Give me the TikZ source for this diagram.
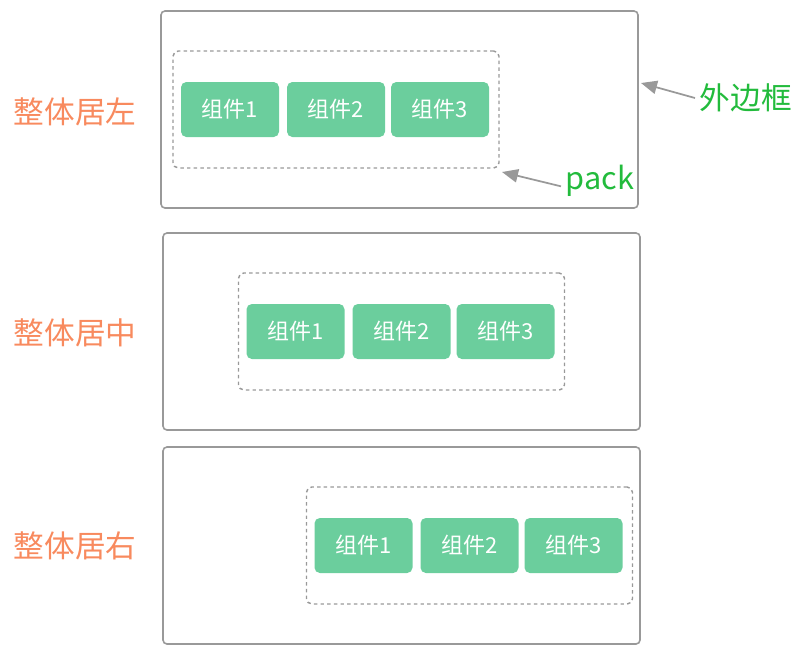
\documentclass[tikz,border=0pt]{standalone}
\usepackage{fontspec}
\setmainfont{Noto Sans CJK SC}
\usetikzlibrary{arrows.meta}
\definecolor{boxgray}{HTML}{999999}
\definecolor{compgreen}{HTML}{6BCE9D}
\definecolor{labelorange}{HTML}{F88A5E}
\definecolor{labelgreen}{HTML}{22BB3C}
\tikzset{
	outerbox/.style={draw=boxgray, line width=1.2pt, rounded corners=3pt, minimum width=357.75pt, minimum height=147.75pt},
	packbox/.style={draw=boxgray, line width=1.1pt, dash pattern=on 2.6pt off 2.4pt, rounded corners=4pt, minimum width=244.5pt, minimum height=87.75pt},
	compbox/.style={fill=compgreen, rounded corners=4pt, minimum width=73.5pt, minimum height=41.25pt, text=white, font=\fontsize{16.5}{19}\selectfont},
	sidelabel/.style={text=labelorange, font=\fontsize{23}{26}\selectfont},
	notelabel/.style={text=labelgreen, font=\fontsize{23}{26}\selectfont},
	notearrow/.style={draw=boxgray, line width=1.3pt, -{Triangle[length=12pt, width=10pt]}}
}
\begin{document}
\begin{tikzpicture}[x=0.75pt, y=-0.75pt]
		%%%%% START %%%%%
		\useasboundingbox (0, 0) rectangle (804, 658);
		
		% outer boxes
		\node[outerbox] (outer1) at (399.5, 109.5) {};
		\node[outerbox] (outer2) at (401.5, 331.5) {};
		\node[outerbox] (outer3) at (401.5, 545.5) {};
		
		% packs
		\node[packbox] (pack1) at (336, 109.5) {};
		\node[packbox] (pack2) at (401.5, 331.5) {};
		\node[packbox] (pack3) at (469.5, 545.5) {};
		
		% components
		\foreach \p in {1,2,3} {
			\node[compbox] (comp\p a) at ([xshift=-79.5pt]pack\p.center) {组件1};
			\node[compbox] (comp\p b) at (pack\p.center) {组件2};
			\node[compbox] (comp\p c) at ([xshift=78pt]pack\p.center) {组件3};
		}
		
		% side labels
		\node[sidelabel] (left) at (75, 112) {整体居左};
		\node[sidelabel] (middle) at (75, 333) {整体居中};
		\node[sidelabel] (right) at (75, 546) {整体居右};
		
		% notes
		\node[notelabel, anchor=west] (outernote) at (695, 98) {外边框};
		\node[notelabel, anchor=west] (packnote) at (561, 181) {pack};
		\coordinate (outertip) at (641, 83);
		\coordinate (packtip) at (502, 172);
		\draw[notearrow] (outernote.west) -- (outertip);
		\draw[notearrow] ([yshift=-4pt]packnote.west) -- (packtip);
		
		%%%%% END %%%%%
	\end{tikzpicture}
\end{document}
